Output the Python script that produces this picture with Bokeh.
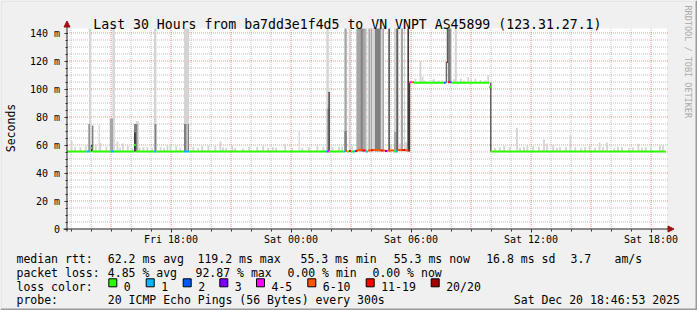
from math import pi
from bokeh.plotting import figure
from bokeh.models import Range1d, FixedTicker, Label, BoxAnnotation, Arrow, NormalHead
from bokeh.embed import file_html
from bokeh.resources import INLINE

# ---------------- data ----------------
title_text = "Last 30 Hours from ba7dd3e1f4d5 to VN VNPT AS45899 (123.31.27.1)"
y_title = "Seconds"
side_text = "RRDTOOL / TOBI OETIKER"

# time axis in hours since Fri 00:00
x_tick_hours = [18, 24, 30, 36, 42]
x_tick_labels = ["Fri 18:00", "Sat 00:00", "Sat 06:00", "Sat 12:00", "Sat 18:00"]
y_tick_ms = [0, 20, 40, 60, 80, 100, 120, 140]
y_tick_labels = ["0", "20 m", "40 m", "60 m", "80 m", "100 m", "120 m", "140 m"]

loss_labels = ["0", "1", "2", "3", "4-5", "6-10", "11-19", "20/20"]
loss_colors = ["#26ff00", "#00b8ff", "#0059ff", "#7e00ff", "#ff00ff", "#ff5500", "#ff0000", "#a10000"]

# median rtt (ms) segments, coloured by loss class (index into loss_labels)
med_start = [12.80, 13.77, 13.94, 13.99, 14.07, 14.99, 15.15, 16.15, 16.24, 17.15, 17.27, 18.65,
             18.90, 25.70, 25.80, 25.90, 26.635, 26.70, 26.80, 26.90, 27.00, 27.10, 27.20, 27.32,
             27.57, 27.74, 27.84, 27.985, 28.10, 28.485, 28.60, 28.70, 28.82, 29.15, 29.235, 29.32,
             29.57, 29.70, 29.87, 29.92, 30.02, 30.15, 31.65, 31.79, 31.85, 31.93, 31.98, 32.04,
             33.90, 34.00]
med_end = [13.77, 13.94, 13.99, 14.07, 14.99, 15.15, 16.15, 16.24, 17.15, 17.27, 18.65, 18.90,
           25.70, 25.80, 25.90, 26.635, 26.70, 26.80, 26.90, 27.00, 27.10, 27.20, 27.32, 27.57,
           27.74, 27.84, 27.985, 28.10, 28.485, 28.60, 28.70, 28.82, 29.15, 29.235, 29.32, 29.57,
           29.70, 29.87, 29.92, 30.02, 30.15, 31.65, 31.74, 31.85, 31.93, 31.98, 32.04, 33.90,
           34.00, 42.74]
med_ms = [55.3, 55.3, 55.3, 58.0, 55.3, 55.3, 55.3, 60.0, 55.3, 55.3, 55.3, 55.3,
          55.3, 55.3, 55.3, 55.3, 55.3, 55.8, 55.3, 55.8, 55.3, 55.3, 55.8, 56.5,
          56.0, 55.3, 56.0, 56.3, 56.5, 56.0, 56.0, 55.8, 56.0, 55.3, 55.3, 56.5,
          56.5, 56.3, 56.0, 104.8, 104.8, 104.5, 104.5, 119.2, 104.8, 104.8, 104.8, 104.5,
          101.5, 55.3]
med_loss = [0, 1, 0, 0, 0, 1, 0, 0, 0, 1, 0, 1,
            0, 1, 4, 0, 1, 5, 0, 6, 0, 1, 6, 5,
            6, 1, 5, 6, 5, 6, 5, 3, 5, 0, 1, 5,
            6, 5, 6, 4, 5, 0, 2, 6, 6, 3, 2, 0,
            0, 0]

# smoke columns: start/end (h), lowest and highest ping (ms), ping density class 1..4
smoke_start = [13.87, 13.90, 14.04, 13.99, 14.38, 14.94, 15.07, 16.24, 16.15, 16.15, 17.15, 17.18,
               18.65, 18.65, 18.84, 24.38, 25.77, 25.79, 25.87, 26.67, 26.67, 26.88, 27.27, 27.49,
               27.74, 27.87, 27.98, 28.10, 28.20, 28.49, 28.57, 28.87, 29.15, 29.15, 29.27, 29.34,
               29.49, 29.65, 29.82, 29.90, 31.74, 31.79, 31.84, 31.99, 32.19, 33.96]
smoke_end = [13.94, 13.99, 14.12, 14.07, 14.44, 15.10, 15.19, 16.39, 16.32, 16.24, 17.27, 17.27,
             18.90, 18.77, 18.90, 24.44, 25.89, 25.94, 25.94, 26.79, 26.79, 26.99, 27.74, 27.58,
             27.82, 27.95, 28.07, 28.20, 28.49, 28.57, 28.65, 28.94, 29.27, 29.27, 29.34, 29.40,
             29.60, 29.70, 29.90, 29.96, 31.79, 31.84, 31.99, 32.05, 32.29, 34.02]
smoke_lo = [55.3] * 40 + [104.5, 119.2, 104.5, 104.5, 104.5, 55.3]
smoke_hi = [75, 150, 74, 60, 75, 79, 150, 77, 75, 69, 150, 75,
            150, 75, 75, 70, 150, 86, 98, 150, 70, 150, 150, 150,
            150, 150, 150, 150, 150, 150, 150, 150, 150, 69.5, 150, 150,
            150, 150, 150, 104.5, 119.2, 150, 150, 150, 150, 104.5]
smoke_density = [3, 1, 3, 4, 1, 2, 1, 1, 3, 4, 1, 3,
                 1, 3, 3, 1, 1, 2, 4, 2, 3, 1, 2, 3,
                 1, 2, 2, 1, 3, 1, 2, 4, 1, 2, 4, 1,
                 2, 1, 4, 4, 4, 4, 3, 1, 1, 4]

# light smoke bumps: centre time (h), base (ms), top (ms)
bump_t = [13.03, 13.20, 13.47, 13.74, 14.24, 14.47, 14.77, 15.32, 15.45, 15.60, 15.84, 16.05,
          16.43, 16.62, 16.82, 17.05, 17.48, 17.65, 17.82, 17.97, 18.26, 18.47, 19.12, 19.36,
          19.56, 19.87, 20.21, 20.47, 20.60, 20.76, 21.06, 21.21, 21.59, 21.91, 22.31, 22.61,
          22.86, 23.09, 23.25, 23.71, 24.06, 24.57, 24.90, 25.32, 25.62, 26.07, 26.40, 26.55,
          27.05, 29.00, 29.45, 29.75,
          30.22, 30.47, 30.58, 30.71, 30.91, 31.08, 31.15, 31.38, 31.55, 32.15, 32.50, 32.65,
          32.86, 33.00, 33.22, 33.48, 33.72, 33.86,
          34.20, 34.44, 34.66, 34.94, 35.30, 35.45, 35.65, 35.82, 36.11, 36.40, 36.65, 36.80,
          37.11, 37.30, 37.45, 37.75, 37.97, 38.21, 38.50, 38.71, 38.93, 39.20, 39.43, 39.60,
          39.80, 40.15, 40.35, 40.55, 40.90, 41.10, 41.37, 41.55, 41.74, 42.00, 42.45, 42.60]
bump_lo = [55.3] * 52 + [104.5] * 18 + [55.3] * 36
bump_hi = [62.6, 58.5, 58.6, 59.7, 60.3, 61.5, 59.0, 62.5, 58.2, 61.0, 59.7, 58.0,
           58.0, 58.4, 58.6, 58.0, 58.6, 58.0, 59.7, 59.7, 59.3, 58.0, 58.6, 58.0,
           59.3, 59.7, 59.3, 62.5, 58.4, 58.0, 59.7, 58.0, 57.5, 58.6, 58.6, 59.3,
           58.0, 58.6, 58.0, 60.9, 58.0, 58.0, 58.6, 59.3, 58.6, 58.6, 58.6, 59.0,
           59.5, 60.0, 61.0, 62.0,
           107.4, 120.0, 109.0, 106.0, 106.0, 106.0, 107.0, 106.0, 106.0, 107.0, 107.4, 106.0,
           108.6, 107.0, 107.4, 106.5, 106.5, 109.9,
           58.0, 58.6, 59.3, 58.6, 72.4, 58.0, 58.5, 59.7, 59.3, 58.6, 64.0, 60.9,
           60.3, 58.0, 58.6, 58.6, 66.9, 58.6, 58.0, 58.6, 59.3, 58.2, 61.7, 58.6,
           61.7, 57.5, 58.5, 58.6, 58.0, 58.4, 60.9, 58.2, 58.6, 58.0, 59.7, 59.7]

stats_rows = [
    ["median rtt:", "62.2 ms avg", "119.2 ms max", "55.3 ms min", "55.3 ms now", "16.8 ms sd", "3.7", "am/s"],
    ["packet loss:", "4.85 % avg", "92.87 % max", "0.00 % min", "0.00 % now"],
]
loss_title = "loss color:"
probe_row = ["probe:", "20 ICMP Echo Pings (56 Bytes) every 300s", "Sat Dec 20 18:46:53 2025"]

# ---------------- layout (pixel geometry of the rrdtool canvas) ----------------
W, H = 697, 310
X0_PX, Y0_PX = 66.5, 228.5        # pixel centre of the time/ms origin
PX_PER_H, PX_PER_MS = 20.0, 1.4
T_START = 12.80                   # hours at the left edge of the graph area
T_END = T_START + 30.0
Y_TOP = (Y0_PX - 28.0) / PX_PER_MS
FONT = "DejaVu Sans Mono"


def px_x(px):
    return T_START + (px - X0_PX) / PX_PER_H


def px_y(py):
    return (Y0_PX - py) / PX_PER_MS


p = figure(width=W, height=H, x_range=Range1d(px_x(0), px_x(W)), y_range=Range1d(px_y(H), px_y(0)),
           output_backend="svg", toolbar_location=None, tools="",
           min_border_left=0, min_border_right=0, min_border_top=0, min_border_bottom=0)
p.background_fill_color = "#f0f0f0"
p.border_fill_color = "#f0f0f0"
p.outline_line_color = None
p.grid.visible = False

# white graph area
p.quad(left=[T_START], right=[T_END], bottom=[0], top=[Y_TOP], fill_color="white", line_color=None)

# grid (dotted): minor every hour / 5 ms, major every 3 h / 20 ms
gx_minor = [h for h in range(13, 43) if h % 3 != 0]
gx_major = [h for h in range(13, 43) if h % 3 == 0]
gy_minor = [v for v in range(5, 141, 5) if v % 20 != 0]
gy_major = [v for v in range(20, 141, 20)]
x_grid_end = px_x(668)
p.segment(x0=gx_minor, y0=[0] * len(gx_minor), x1=gx_minor, y1=[Y_TOP] * len(gx_minor),
          line_color="#c0c0c0", line_width=1, line_dash="1 1")
p.segment(x0=[T_START] * len(gy_minor), y0=gy_minor, x1=[x_grid_end] * len(gy_minor), y1=gy_minor,
          line_color="#c0c0c0", line_width=1, line_dash="1 1")
p.segment(x0=gx_major, y0=[0] * len(gx_major), x1=gx_major, y1=[Y_TOP] * len(gx_major),
          line_color="#ff0000", line_alpha=0.45, line_width=1, line_dash="1 1")
p.segment(x0=[T_START] * len(gy_major), y0=gy_major, x1=[x_grid_end] * len(gy_major), y1=gy_major,
          line_color="#ff0000", line_alpha=0.45, line_width=1, line_dash="1 1")

# axes placed inside the single full-canvas frame
p.xaxis.fixed_location = 0
p.yaxis.fixed_location = T_START
p.xaxis.bounds = (T_START, T_END)
p.yaxis.bounds = (0, Y_TOP)
p.xaxis.ticker = FixedTicker(ticks=x_tick_hours, minor_ticks=list(range(13, 43)))
p.xaxis.major_label_overrides = dict(zip(x_tick_hours, x_tick_labels))
p.yaxis.ticker = FixedTicker(ticks=y_tick_ms, minor_ticks=list(range(5, 141, 5)))
p.yaxis.major_label_overrides = dict(zip(y_tick_ms, y_tick_labels))
for ax in (p.xaxis, p.yaxis):
    ax.axis_line_color = None
    ax.major_tick_line_color = "#333333"
    ax.minor_tick_line_color = "#333333"
    ax.major_tick_in = 0
    ax.minor_tick_in = 0
    ax.major_tick_out = 3
    ax.minor_tick_out = 2
    ax.major_label_text_font = FONT
    ax.major_label_text_font_size = "10px"
    ax.major_label_text_color = "#000000"
p.xaxis.major_label_standoff = 2
p.yaxis.major_label_standoff = 4

# smoke
SHADES = {1: "#d4d4d4", 2: "#a6a6a6", 3: "#808080", 4: "#3c3c3c"}
for lvl in (1, 2, 3, 4):
    idx = [i for i, d in enumerate(smoke_density) if d == lvl]
    left = [smoke_start[i] for i in idx]
    right = [smoke_end[i] for i in idx]
    bottom = [smoke_lo[i] for i in idx]
    top = [min(smoke_hi[i], Y_TOP) for i in idx]
    if lvl == 1:
        left += [t - 0.045 for t in bump_t]
        right += [t + 0.045 for t in bump_t]
        bottom += bump_lo
        top += [min(v, Y_TOP) for v in bump_hi]
    p.quad(left=left, right=right, bottom=bottom, top=top,
           fill_color=SHADES[lvl], line_color=None)

# median line
p.segment(x0=med_start, y0=med_ms, x1=med_end, y1=med_ms,
          line_color=[loss_colors[k] for k in med_loss], line_width=2, line_cap="butt")

# axis lines with arrows
p.add_layout(Arrow(end=NormalHead(size=6, fill_color="#a01010", line_color="#a01010"),
                   x_start=px_x(63), y_start=0, x_end=px_x(673.5), y_end=0,
                   line_color="#222222", line_width=1))
p.add_layout(Arrow(end=NormalHead(size=6, fill_color="#a01010", line_color="#a01010"),
                   x_start=T_START, y_start=px_y(231), x_end=T_START, y_end=px_y(20.5),
                   line_color="#222222", line_width=1))


def add_text(txt, px, py, size="11.5px", align="left", baseline="alphabetic", angle=0.0, color="#000000"):
    p.add_layout(Label(x=px_x(px), y=px_y(py), text=txt, text_font=FONT, text_font_size=size,
                       text_align=align, text_baseline=baseline, angle=angle, text_color=color))


add_text(title_text, 346.9, 24, size="13.2px", align="center")
add_text(y_title, 10.8, 127.5, size="11.5px", align="center", baseline="middle", angle=pi / 2)
add_text(side_text, 687.5, 5, size="8.5px", align="left", baseline="middle", angle=-pi / 2, color="#aaaaaa")

row_x = [[16, 107.3, 197, 300, 393.3, 485.7, 570, 614],
         [16, 107.3, 195, 287, 372]]
row_y = [258.3, 272]
for r, texts in enumerate(stats_rows):
    for xx, t in zip(row_x[r], texts):
        add_text(t, xx, row_y[r])

add_text(loss_title, 16, 286)
sq_x = [108.3, 145.7, 182.7, 219.3, 256, 307.3, 365.7, 430.7]
for xx, lab, col in zip(sq_x, loss_labels, loss_colors):
    p.add_layout(BoxAnnotation(left=px_x(xx), right=px_x(xx + 8), top=px_y(278.3), bottom=px_y(286.3),
                               fill_color=col, fill_alpha=1.0, line_color="#000000", line_width=1,
                               line_alpha=1.0))
    add_text(lab, xx + 15, 286)

for xx, t in zip([16, 107.3, 513.3], probe_row):
    add_text(t, xx, 299.7)

# 3D frame edges of the canvas
p.add_layout(BoxAnnotation(left=px_x(695), right=px_x(697), top=px_y(0), bottom=px_y(310),
                           fill_color="#9a9a9a", fill_alpha=1.0, line_color=None))
p.add_layout(BoxAnnotation(left=px_x(0), right=px_x(697), top=px_y(308), bottom=px_y(310),
                           fill_color="#9a9a9a", fill_alpha=1.0, line_color=None))
p.add_layout(BoxAnnotation(left=px_x(0), right=px_x(695), top=px_y(0), bottom=px_y(1),
                           fill_color="#dcdcdc", fill_alpha=1.0, line_color=None))
p.add_layout(BoxAnnotation(left=px_x(0), right=px_x(1), top=px_y(0), bottom=px_y(308),
                           fill_color="#dcdcdc", fill_alpha=1.0, line_color=None))

open("out.html", "w").write(file_html(p, INLINE))
